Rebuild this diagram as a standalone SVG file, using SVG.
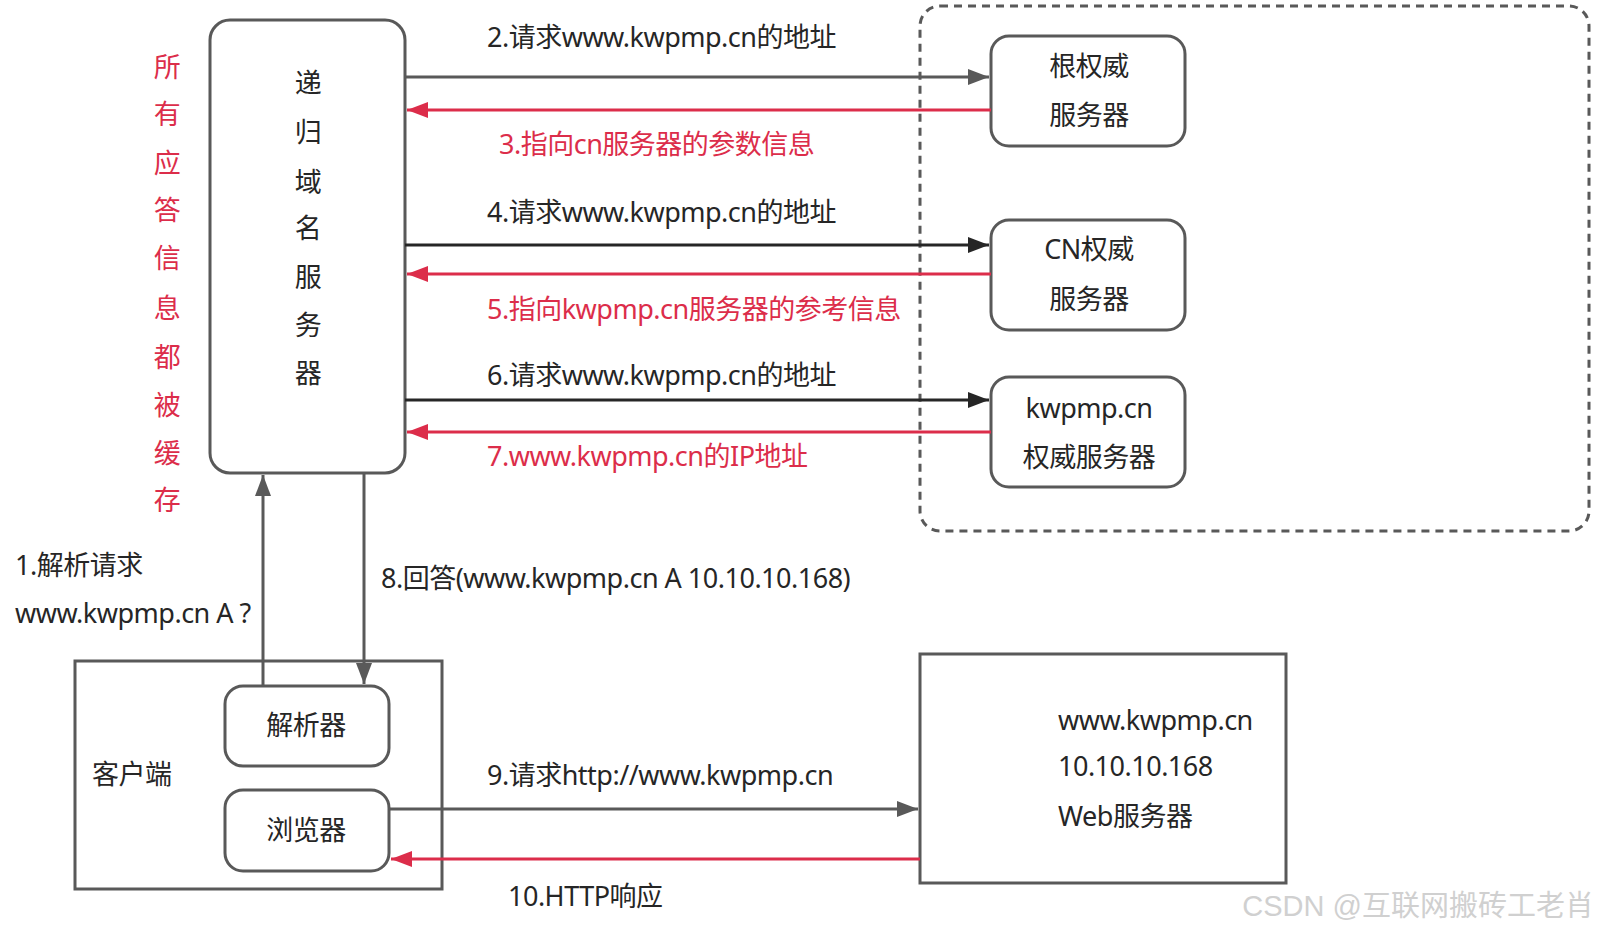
<svg xmlns="http://www.w3.org/2000/svg" width="1602" height="934" viewBox="0 0 1602 934">
<style>
.t{font-family:"Noto Sans","Noto Sans CJK SC",sans-serif;font-size:27px;fill:#262626;letter-spacing:-0.5px}
.r{fill:#DC2D4A}
.c{text-anchor:middle}
.box{fill:#fff;stroke:#595959;stroke-width:3}
.ln{fill:none;stroke-width:3}
.g{stroke:#595959}.d{stroke:#262626}.rd{stroke:#DC2D4A}
</style>
<defs>
<marker id="ag" markerUnits="userSpaceOnUse" markerWidth="21" markerHeight="16" refX="21" refY="8" orient="auto"><path d="M0,0 L21,8 L0,16 z" fill="#595959"/></marker>
<marker id="ad" markerUnits="userSpaceOnUse" markerWidth="21" markerHeight="16" refX="21" refY="8" orient="auto"><path d="M0,0 L21,8 L0,16 z" fill="#262626"/></marker>
<marker id="ar" markerUnits="userSpaceOnUse" markerWidth="21" markerHeight="16" refX="21" refY="8" orient="auto"><path d="M0,0 L21,8 L0,16 z" fill="#DC2D4A"/></marker>
</defs>
<rect width="1602" height="934" fill="#fff"/>

<g id="auth-zone">
<rect x="920" y="6" width="669" height="525" rx="20" fill="none" stroke="#595959" stroke-width="3" stroke-dasharray="8 6"/>
</g>

<g id="cache-note">
<text class="t r c" x="167"><tspan x="167" y="77">所</tspan><tspan x="167" y="124">有</tspan><tspan x="167" y="173">应</tspan><tspan x="167" y="220">答</tspan><tspan x="167" y="268">信</tspan><tspan x="167" y="318">息</tspan><tspan x="167" y="367">都</tspan><tspan x="167" y="415">被</tspan><tspan x="167" y="463">缓</tspan><tspan x="167" y="510">存</tspan></text>
</g>

<g id="recursive">
<rect class="box" x="210" y="20" width="195" height="453" rx="20"/>
<text class="t c"><tspan x="308" y="93">递</tspan><tspan x="308" y="142">归</tspan><tspan x="308" y="192">域</tspan><tspan x="308" y="238">名</tspan><tspan x="308" y="287">服</tspan><tspan x="308" y="335">务</tspan><tspan x="308" y="383">器</tspan></text>
</g>

<g id="root">
<rect class="box" x="991" y="36" width="194" height="110" rx="18"/>
<text class="t c" x="1089" y="76">根权威</text>
<text class="t c" x="1089" y="125">服务器</text>
</g>

<g id="cn">
<rect class="box" x="991" y="220" width="194" height="110" rx="18"/>
<text class="t c" x="1089" y="259">CN权威</text>
<text class="t c" x="1089" y="309">服务器</text>
</g>

<g id="kwpmp">
<rect class="box" x="991" y="377" width="194" height="110" rx="18"/>
<text class="t c" x="1089" y="418">kwpmp.cn</text>
<text class="t c" x="1089" y="467">权威服务器</text>
</g>

<g id="client">
<rect class="box" x="75" y="661" width="367" height="228"/>
<text class="t" x="92" y="784">客户端</text>
</g>

<g id="resolver">
<rect class="box" x="225" y="686" width="164" height="80" rx="18"/>
<text class="t c" x="306" y="735">解析器</text>
</g>

<g id="browser">
<rect class="box" x="225" y="790" width="164" height="81" rx="18"/>
<text class="t c" x="306" y="840">浏览器</text>
</g>

<g id="web">
<rect class="box" x="920" y="654" width="366" height="229"/>
<text class="t" x="1058" y="730">www.kwpmp.cn</text>
<text class="t" x="1058" y="776">10.10.10.168</text>
<text class="t" x="1058" y="826">Web服务器</text>
</g>

<g id="connectors">
<path class="ln g" d="M405,77 H989" marker-end="url(#ag)"/>
<path class="ln rd" d="M991,110 H407" marker-end="url(#ar)"/>
<path class="ln d" d="M405,245 H989" marker-end="url(#ad)"/>
<path class="ln rd" d="M991,274 H407" marker-end="url(#ar)"/>
<path class="ln d" d="M405,400 H989" marker-end="url(#ad)"/>
<path class="ln rd" d="M991,432 H407" marker-end="url(#ar)"/>
<path class="ln g" d="M263,686 V475" marker-end="url(#ag)"/>
<path class="ln g" d="M364,473 V684" marker-end="url(#ag)"/>
<path class="ln g" d="M389,809 H918" marker-end="url(#ag)"/>
<path class="ln rd" d="M920,859 H391" marker-end="url(#ar)"/>
<text class="t" x="487" y="47">2.请求www.kwpmp.cn的地址</text>
<text class="t r" x="499" y="154">3.指向cn服务器的参数信息</text>
<text class="t" x="487" y="222">4.请求www.kwpmp.cn的地址</text>
<text class="t r" x="487" y="319">5.指向kwpmp.cn服务器的参考信息</text>
<text class="t" x="487" y="385">6.请求www.kwpmp.cn的地址</text>
<text class="t r" x="487" y="466">7.www.kwpmp.cn的IP地址</text>
<text class="t" x="15" y="575">1.解析请求</text>
<text class="t" x="15" y="623">www.kwpmp.cn A ?</text>
<text class="t" x="381" y="588">8.回答(www.kwpmp.cn A 10.10.10.168)</text>
<text class="t" x="487" y="785">9.请求http://www.kwpmp.cn</text>
<text class="t" x="508" y="906">10.HTTP响应</text>
</g>

<text x="1594" y="916" text-anchor="end" style="font-family:'Liberation Sans','Noto Sans CJK SC',sans-serif;font-size:29px;fill:#d0d0d0">CSDN @互联网搬砖工老肖</text>
</svg>
